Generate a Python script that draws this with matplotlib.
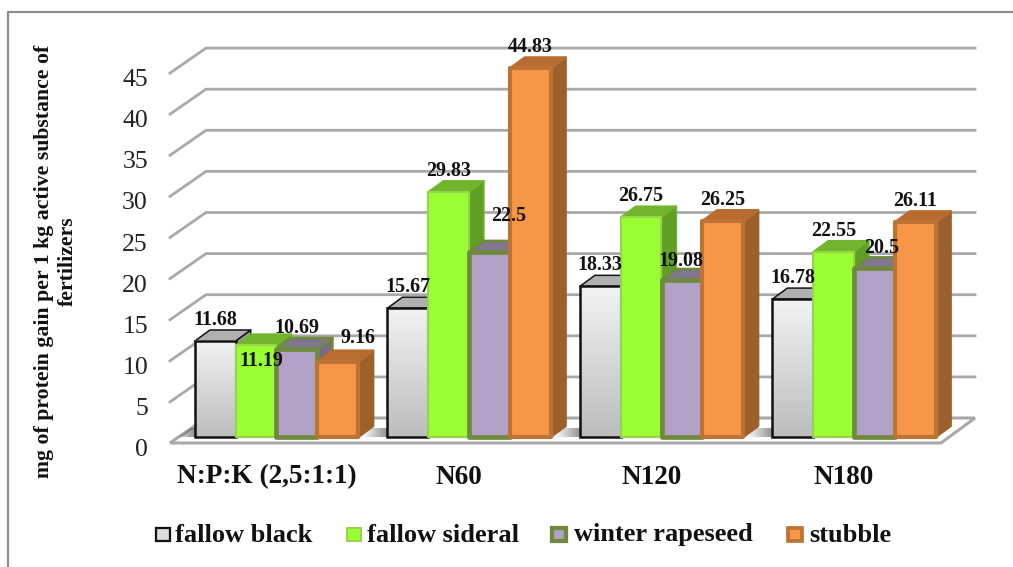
# -*- coding: utf-8 -*-
"""protein gain per kg of fertilizer, excel style 3d columns"""
import numpy as np
import matplotlib; matplotlib.use("Agg")
import matplotlib.pyplot as plt
from matplotlib.colors import LinearSegmentedColormap
from matplotlib.patches import Polygon, Rectangle
from matplotlib.lines import Line2D

plt.rcParams['font.family'] = ['Liberation Serif', 'DejaVu Serif']

groups = ["N:P:K (2,5:1:1)", "N60", "N120", "N180"]
series = ["fallow black", "fallow sideral", "winter rapeseed", "stubble"]
fallow_black = [11.68, 15.67, 18.33, 16.78]
fallow_sideral = [11.19, 29.83, 26.75, 22.55]
winter_rapeseed = [10.69, 22.5, 19.08, 20.5]
stubble = [9.16, 44.83, 26.25, 26.11]
yticks = [0, 5, 10, 15, 20, 25, 30, 35, 40, 45]

W, H = 1013, 567
GROUP_PX, UNIT_PX = 192.5, 8.22   # px per group, px per value unit
X0_PX, Y0_PX = 276.5, 437         # group 0 centre, bar base
fig = plt.figure(figsize=(W/100, H/100), dpi=100)
ax = fig.add_axes([0, 0, 1, 1])
dx = lambda p: p/GROUP_PX
dy = lambda p: p/UNIT_PX

# outer frame
fig.add_artist(Line2D([8/W, 8/W, 1], [0, 1-12/H, 1-12/H], color="#8c8c8c", lw=1.6))

# walls and floor
grid = "#a9a9a9"
xl, xm, xr = -(X0_PX-170)/GROUP_PX, -(X0_PX-206)/GROUP_PX, (975-X0_PX)/GROUP_PX
yf, yb = dy(Y0_PX-443), dy(Y0_PX-418)
for t in yticks[1:]:
    s = t*41.1/5/UNIT_PX
    ax.plot([xl, xm, xr], [yf+s, yb+s, yb+s], color=grid, lw=2, zorder=1, solid_joinstyle="miter")
floor = Polygon([(xl, yf), (xm, yb), (xr, yb), (xr-dx(34), yf)], fc="white", ec=grid, lw=2.2, zorder=1)
ax.add_patch(floor)

for t in yticks:
    ax.text(dx(148)-X0_PX/GROUP_PX, yf+t*41.1/5/UNIT_PX-dy(7), str(t), ha="right", va="center", fontsize=18.5, color="#222222")
for i, g in enumerate(groups):
    ax.text(i-dx(10), dy(Y0_PX-477), g, ha="center", va="center", fontsize=19.6, fontweight="bold", color="#111111")
ax.text(dx(56)-X0_PX/GROUP_PX, dy(Y0_PX-261), "mg of protein gain per 1 kg active substance of\nfertilizers",
        rotation=90, ha="center", va="center", fontsize=15.7, fontweight="bold", linespacing=1.25, color="#111111")

# face, top, side, edge, edge width, edge of top/side
styles = [("#dddddd", "#b0b0b0", "#9a9a9a", "#111111", 1.8, "#111111"),
          ("#99ff33", "#70b52b", "#5fa024", "#9ad24c", 1.6, "#70b52b"),
          ("#b3a2c7", "#82758f", "#786b87", "#6f8a3f", 3.4, "#6f8a3f"),
          ("#f79646", "#b86c30", "#9c612b", "#bd7236", 3.0, "#b86c30")]
values = [fallow_black, fallow_sideral, winter_rapeseed, stubble]
bw = dx(40.8)
ddx, ddy = dx(15), dy(11)
grad = np.linspace(0, 1, 64).reshape(-1, 1)
gray_cmap = LinearSegmentedColormap.from_list("g", ["#f2f2f2", "#bdbdbd"])
shadow = np.zeros((1, 32, 4))
shadow[..., 3] = np.linspace(0, 0.42, 32)

for i in range(len(groups)):
    # floor shadow left of each group
    im = ax.imshow(shadow, extent=[i-2*bw-dx(26), i-2*bw, 0, dy(9)], aspect="auto", zorder=1.5)
    im.set_clip_path(floor)
    for s, v in enumerate(values):
        f, top, side, ec, lw, ec2 = styles[s]
        x0, h = i-2*bw+s*bw, v[i]
        z = 2+i+s*0.1
        side_ec = side if s == 3 else ec2
        ax.add_patch(Polygon([(x0+bw, 0), (x0+bw+ddx, ddy), (x0+bw+ddx, h+ddy), (x0+bw, h)], fc=side, ec=side_ec, lw=lw*0.6, zorder=z, joinstyle="round"))
        ax.add_patch(Polygon([(x0, h), (x0+ddx, h+ddy), (x0+bw+ddx, h+ddy), (x0+bw, h)], fc=top, ec=ec2, lw=lw*0.6, zorder=z, joinstyle="round"))
        if s == 0:
            ax.imshow(grad, cmap=gray_cmap, extent=[x0, x0+bw, 0, h], aspect="auto", zorder=z+0.01, origin="upper")
            ax.add_patch(Rectangle((x0, 0), bw, h, fc="none", ec=ec, lw=lw, zorder=z+0.02))
        else:
            ax.add_patch(Rectangle((x0, 0), bw, h, fc=f, ec=ec, lw=lw, zorder=z+0.02, joinstyle="round"))

# data labels, a few were moved by hand in the original
nudge = {(0, 1): (5, 37), (1, 2): (19, -15), (3, 2): (7, 1), (0, 3): (20, -3), (2, 2): (-1, 2)}
for s, v in enumerate(values):
    for i, val in enumerate(v):
        ox, oy = nudge.get((i, s), (0, 0))
        x0 = i-2*bw+s*bw+bw/2
        ax.text(x0+dx(ox), val+dy(21)-dy(oy), str(val), ha="center", va="center", fontsize=14.4, fontweight="bold",
                color="#111111", zorder=20)

# legend
leg_box = [155, 346, 551, 787]
leg_txt = [175, 367, 574, 809]
for s, name in enumerate(series):
    f, top, side, ec, lw, ec2 = styles[s]
    bx = dx(leg_box[s]+1-X0_PX)
    ax.add_patch(Rectangle((bx, dy(Y0_PX-541)), dx(14), dy(13), fc=f, ec=ec, lw=lw*0.9, zorder=5))
    ax.text(dx(leg_txt[s]-X0_PX), dy(Y0_PX-535), name, ha="left", va="center", fontsize=19, fontweight="bold", color="#111111")

ax.set_xlim(-X0_PX/GROUP_PX, (W-X0_PX)/GROUP_PX)
ax.set_ylim((Y0_PX-H)/UNIT_PX, Y0_PX/UNIT_PX)
ax.axis("off")
plt.savefig("out.png", dpi=100)
